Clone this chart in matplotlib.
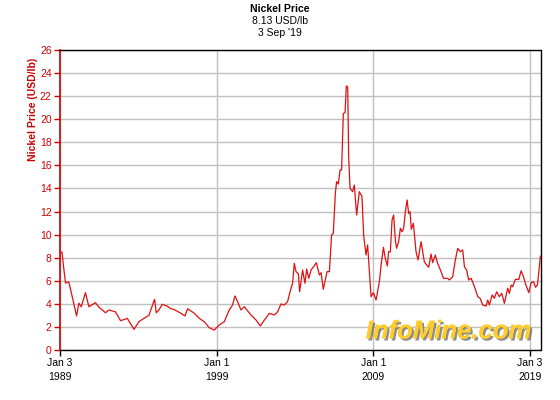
import matplotlib
matplotlib.use("Agg")
import matplotlib.pyplot as plt
import matplotlib.patheffects as pe
import numpy as np

# Decimal-year dates and nickel prices (USD/lb)
years = [1989.00, 1989.13, 1989.26, 1989.36, 1989.57, 1989.79, 1990.06, 1990.21, 1990.36, 1990.63,
         1990.85, 1991.27, 1991.49, 1991.91, 1992.13, 1992.55, 1992.87, 1993.30, 1993.73, 1994.04,
         1994.36, 1994.68, 1995.04, 1995.15, 1995.32, 1995.53, 1995.85, 1996.06, 1996.30, 1996.73,
         1996.98, 1997.15, 1997.58, 1997.90, 1998.21, 1998.53, 1998.85, 1999.17, 1999.49, 1999.81,
         2000.02, 2000.17, 2000.34, 2000.56, 2000.77, 2001.20, 2001.52, 2001.79, 2002.05, 2002.37,
         2002.68, 2002.90, 2003.11, 2003.32, 2003.53, 2003.75, 2003.85, 2003.96, 2004.07, 2004.22,
         2004.30, 2004.49, 2004.64, 2004.75, 2004.88, 2005.03, 2005.19, 2005.37, 2005.56, 2005.67,
         2005.81, 2006.05, 2006.20, 2006.34, 2006.45, 2006.58, 2006.66, 2006.77, 2006.88, 2006.98,
         2007.09, 2007.20, 2007.28, 2007.37, 2007.43, 2007.52, 2007.68, 2007.79, 2007.94, 2008.11,
         2008.28, 2008.39, 2008.54, 2008.64, 2008.86, 2009.01, 2009.18, 2009.39, 2009.50, 2009.65,
         2009.77, 2009.90, 2009.98, 2010.09, 2010.20, 2010.30, 2010.41, 2010.49, 2010.62, 2010.73,
         2010.84, 2010.94, 2011.05, 2011.16, 2011.26, 2011.35, 2011.43, 2011.56, 2011.73, 2011.86,
         2012.05, 2012.26, 2012.41, 2012.54, 2012.69, 2012.79, 2012.96, 2013.11, 2013.33, 2013.48,
         2013.75, 2013.86, 2014.07, 2014.24, 2014.39, 2014.56, 2014.71, 2014.82, 2014.96, 2015.09,
         2015.25, 2015.46, 2015.67, 2015.82, 2015.99, 2016.20, 2016.31, 2016.41, 2016.59, 2016.73,
         2016.88, 2017.05, 2017.20, 2017.37, 2017.58, 2017.69, 2017.80, 2017.90, 2018.07, 2018.29,
         2018.44, 2018.59, 2018.72, 2018.93, 2019.08, 2019.23, 2019.36, 2019.48, 2019.67]
prices = [8.4, 8.5, 6.9, 5.8, 5.9, 4.6, 2.95, 4.05, 3.75, 4.97,
          3.75, 4.1, 3.7, 3.23, 3.47, 3.3, 2.54, 2.74, 1.79, 2.45,
          2.74, 3.0, 4.39, 3.23, 3.47, 3.96, 3.8, 3.6, 3.5, 3.18,
          2.95, 3.58, 3.18, 2.74, 2.45, 1.93, 1.73, 2.17, 2.45, 3.47,
          3.9, 4.68, 4.19, 3.47, 3.75, 3.03, 2.6, 2.08, 2.6, 3.18,
          3.03, 3.32, 3.99, 3.9, 4.19, 5.35, 5.78, 7.51, 6.79, 6.6,
          5.05, 6.93, 5.78, 7.02, 6.21, 6.93, 7.22, 7.57, 6.5, 6.7,
          5.26, 6.79, 6.79, 9.97, 10.1, 13.58, 14.59, 14.38, 15.6, 15.6,
          20.5, 20.57, 22.88, 22.8, 16.75, 14.0, 13.72, 14.3, 11.7, 13.72,
          13.3, 9.88, 8.23, 9.1, 4.62, 4.97, 4.33, 5.92, 7.37, 8.9,
          7.94, 7.28, 8.52, 8.5, 11.27, 11.7, 9.53, 8.81, 9.39, 10.55,
          10.25, 10.55, 11.99, 13.0, 11.84, 11.99, 10.46, 10.98, 8.52, 7.8,
          9.39, 7.65, 7.37, 7.17, 8.32, 7.57, 8.23, 7.51, 6.79, 6.21,
          6.21, 6.07, 6.35, 7.8, 8.81, 8.52, 8.67, 7.22, 6.93, 6.07,
          6.21, 5.49, 4.62, 4.48, 3.9, 3.81, 4.33, 3.9, 4.77, 4.48,
          5.05, 4.62, 4.91, 4.05, 5.35, 4.91, 5.63, 5.49, 6.12, 6.12,
          6.87, 6.35, 5.72, 4.97, 5.83, 5.92, 5.43, 5.63, 8.13]

tick_years = [1989.005, 1999.0, 2009.0, 2019.005]
tick_labels = ["Jan 3\n1989", "Jan 1\n1999", "Jan 1\n2009", "Jan 3\n2019"]
y_ticks = list(range(0, 27, 2))

RED = "#cc0000"
plt.rcParams['font.family'] = ['Liberation Sans', 'DejaVu Sans']

fig = plt.figure(figsize=(5.6, 4.0), dpi=100)
ax = fig.add_axes([60/560, 1 - 350/400, 480.5/560, 300/400])

ax.plot(years, prices, color="#dd1111", lw=0.9, zorder=3)

ax.set_xlim(1989.005, 2019.675)
ax.set_ylim(0, 26)
ax.set_yticks(y_ticks)
ax.set_xticks(tick_years)
ax.set_xticklabels(tick_labels, fontsize=7.5, color="black", linespacing=1.45)
ax.tick_params(axis='y', colors=RED, labelsize=7.5, length=4, width=1, pad=2)
ax.tick_params(axis='x', colors="black", length=4, width=1, pad=2)
ax.grid(True, color="#c0c0c0", lw=1, zorder=0)
for s in ["top", "right", "bottom"]:
    ax.spines[s].set_color("black")
    ax.spines[s].set_linewidth(1)
ax.spines["left"].set_color(RED)
ax.spines["left"].set_linewidth(1.2)

fig.text(33/560, 1 - 109/400, "Nickel Price (USD/lb)", rotation=90, color=RED,
         fontsize=7.5, fontweight="bold", ha="center", va="center")

fig.text(0.5, 1 - 9/400, "Nickel Price", fontsize=7.5, fontweight="bold", ha="center", va="center")
fig.text(0.5, 1 - 21/400, "8.13 USD/lb", fontsize=7.5, ha="center", va="center")
fig.text(0.5, 1 - 33/400, "3 Sep '19", fontsize=7.5, ha="center", va="center")

ax.text(0.982, 0.022, "InfoMine.com", transform=ax.transAxes, ha="right", va="bottom",
        fontsize=18.5, fontweight="bold", fontstyle="italic", color="#ffcc2a", zorder=4,
        path_effects=[pe.withSimplePatchShadow(offset=(1.5, -1.5), shadow_rgbFace="#777777", alpha=0.85),
                      pe.Normal()])

fig.savefig("out.png", dpi=100)
